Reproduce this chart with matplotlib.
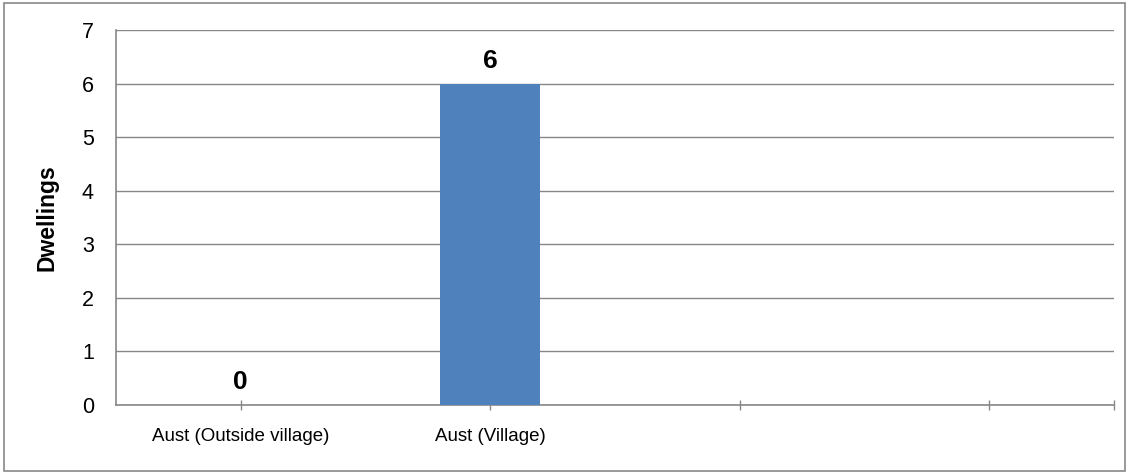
import matplotlib.pyplot as plt
import matplotlib.patches as mpatches

plt.rcParams['font.family'] = ['Liberation Sans', 'DejaVu Sans']

categories = ["Aust (Outside village)", "Aust (Village)", "", ""]
values = [0, 6, None, None]
y_ticks = [0, 1, 2, 3, 4, 5, 6, 7]

grey = '#878787'
bar_color = '#4f81bd'

fig = plt.figure(figsize=(11.29, 4.74), dpi=100)
ax = fig.add_axes([116 / 1129, 1 - 405 / 474, (1114 - 116) / 1129, (405 - 30) / 474])

# outer chart border
fig.patches.append(mpatches.Rectangle((4 / 1129, 3 / 474), 1121 / 1129, 468 / 474,
                                      transform=fig.transFigure, fill=False,
                                      edgecolor=grey, linewidth=1.2))

x = [i for i, v in enumerate(values) if v is not None]
vals = [v for v in values if v is not None]
bars = ax.bar(x, vals, width=0.4, color=bar_color, zorder=3)

for xi, v in zip(x, vals):
    ax.annotate(str(v), (xi, v), xytext=(0, 11.5), textcoords='offset points',
                ha='center', va='baseline', fontsize=19, fontweight='bold')

ax.set_xlim(-0.5, len(categories) - 0.5)
ax.set_ylim(0, 7)
ax.set_yticks(y_ticks)
ax.yaxis.grid(True, color=grey, linewidth=1, zorder=0)
ax.tick_params(axis='y', length=0, labelsize=15.5, pad=16)

ax.set_xticks(list(range(len(categories))) + [len(categories) - 0.5])
ax.set_xticklabels(categories + [""], fontsize=13.5)
ax.tick_params(axis='x', direction='inout', length=7, color=grey, width=1, pad=13)

for side in ['top', 'right']:
    ax.spines[side].set_visible(False)
for side in ['left', 'bottom']:
    ax.spines[side].set_color(grey)
    ax.spines[side].set_linewidth(1.2)
ax.set_axisbelow(True)

ax.set_ylabel('Dwellings', fontsize=16.5, fontweight='bold', labelpad=17)

fig.savefig('out.png', dpi=100)
